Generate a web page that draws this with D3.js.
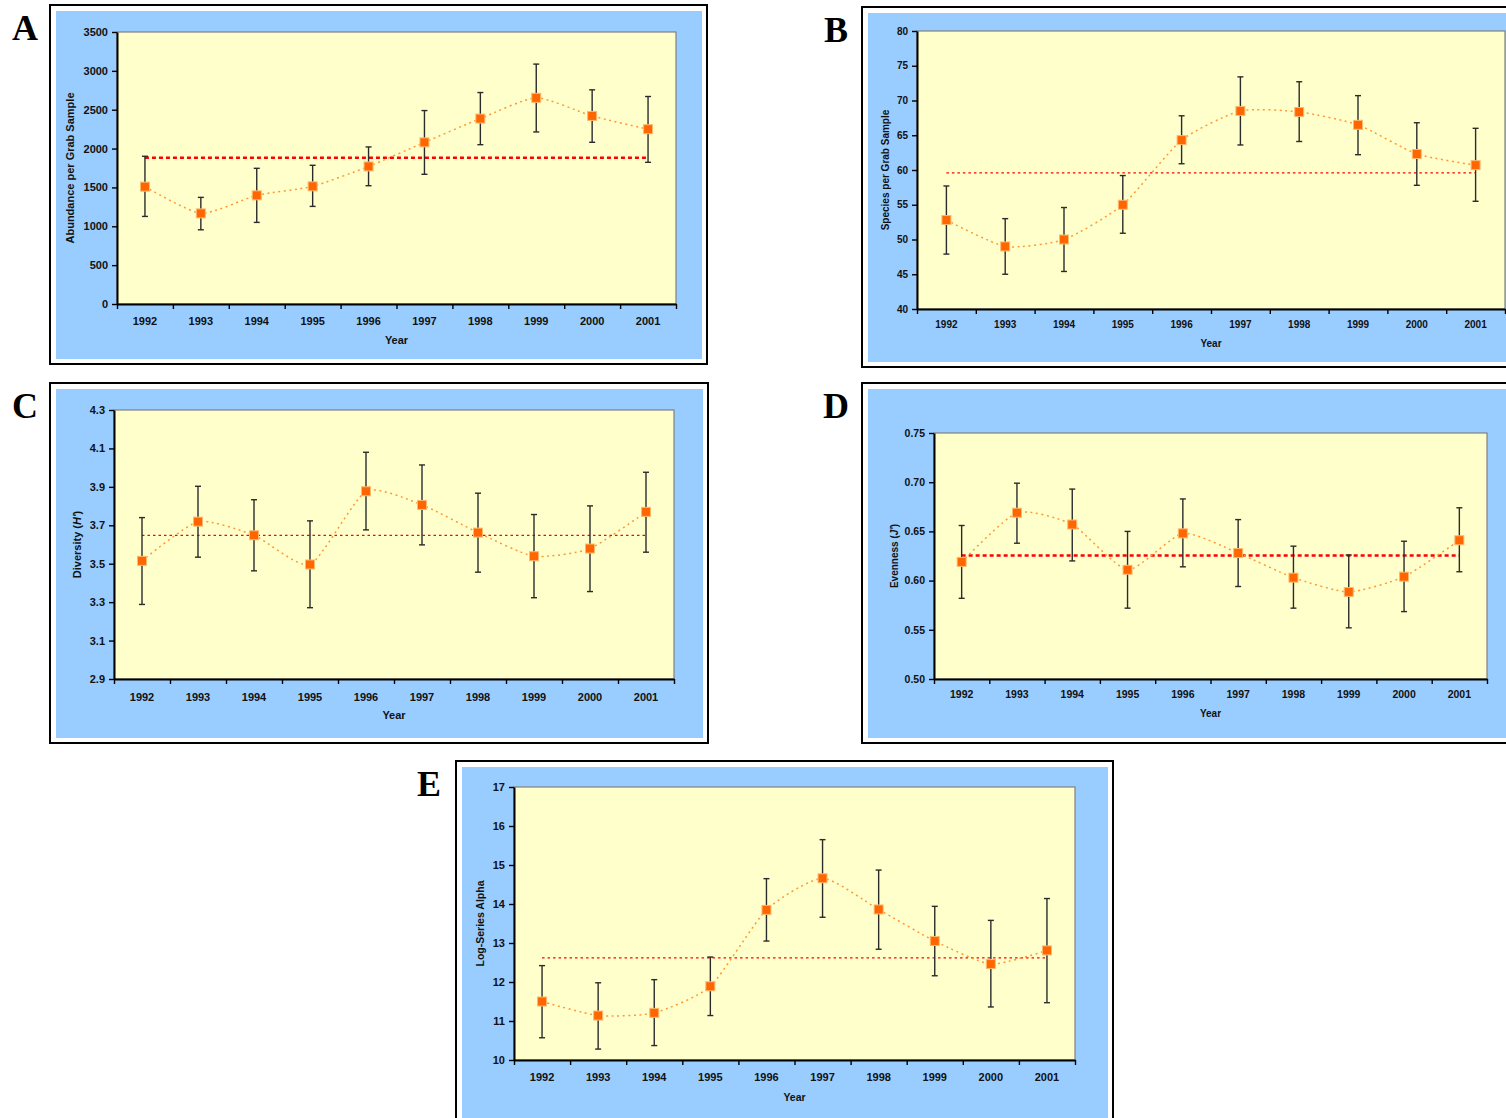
<!DOCTYPE html>
<html>
<head>
<meta charset="utf-8">
<script src="https://cdn.jsdelivr.net/npm/d3@7"></script>
<style>
body { margin: 0; background: #fff; }
svg { display: block; }
</style>
</head>
<body>
<svg id="fig" width="1506" height="1118"></svg>
<script>
var years = ["1992", "1993", "1994", "1995", "1996", "1997", "1998", "1999", "2000", "2001"];

// A - abundance
var abundance   = [1510, 1166, 1398, 1514, 1770, 2080, 2386, 2653, 2420, 2249];
var abundanceLo = [1127, 955, 1050, 1256, 1522, 1669, 2050, 2214, 2081, 1823];
var abundanceHi = [1901, 1372, 1746, 1785, 2021, 2489, 2721, 3087, 2756, 2670];
var abundanceAvg = 1883;
var abundanceTicks = [0, 500, 1000, 1500, 2000, 2500, 3000, 3500];

// B - species
var species   = [52.8, 49.0, 50.0, 55.0, 64.3, 68.5, 68.35, 66.5, 62.3, 60.7];
var speciesLo = [47.9, 45.0, 45.4, 50.9, 60.9, 63.6, 64.1, 62.2, 57.8, 55.5];
var speciesHi = [57.7, 53.0, 54.6, 59.2, 67.8, 73.4, 72.7, 70.7, 66.8, 66.0];
var speciesAvg = 59.6;
var speciesTicks = [40, 45, 50, 55, 60, 65, 70, 75, 80];

// C - diversity
var diversity   = [3.515, 3.719, 3.648, 3.496, 3.877, 3.806, 3.662, 3.539, 3.579, 3.770];
var diversityLo = [3.288, 3.534, 3.463, 3.271, 3.676, 3.598, 3.456, 3.323, 3.355, 3.560];
var diversityHi = [3.740, 3.903, 3.833, 3.723, 4.080, 4.014, 3.867, 3.756, 3.801, 3.976];
var diversityAvg = 3.648;
var diversityTicks = [2.9, 3.1, 3.3, 3.5, 3.7, 3.9, 4.1, 4.3];

// D - evenness
var evenness   = [0.619, 0.669, 0.657, 0.611, 0.648, 0.628, 0.603, 0.5885, 0.604, 0.641];
var evennessLo = [0.582, 0.638, 0.620, 0.572, 0.614, 0.594, 0.572, 0.552, 0.5685, 0.609];
var evennessHi = [0.656, 0.699, 0.693, 0.650, 0.683, 0.662, 0.635, 0.626, 0.640, 0.674];
var evennessAvg = 0.6255;
var evennessTicks = [0.50, 0.55, 0.60, 0.65, 0.70, 0.75];

// E - log-series alpha
var alpha   = [11.50, 11.14, 11.21, 11.89, 13.85, 14.66, 13.86, 13.05, 12.46, 12.81];
var alphaLo = [10.57, 10.28, 10.37, 11.14, 13.05, 13.66, 12.84, 12.16, 11.36, 11.47];
var alphaHi = [12.42, 11.98, 12.06, 12.64, 14.65, 15.65, 14.87, 13.94, 13.58, 14.14];
var alphaAvg = 12.62;
var alphaTicks = [10, 11, 12, 13, 14, 15, 16, 17];

var svg = d3.select("#fig");

var panels = [
  {letter: "A", lx: 12, ly: 40, frame: [50, 5, 707, 364], plot: [117, 32, 676, 304],
   v: abundance, lo: abundanceLo, hi: abundanceHi, avg: abundanceAvg, ticks: abundanceTicks,
   fmt: d3.format("d"), label: ["Abundance per Grab Sample"], labX: 70, fs: 11, fsLab: 11,
   pad: 13, yearGap: 36, thickMean: true},
  {letter: "B", lx: 824, ly: 42, frame: [862, 7, 1513, 367], plot: [917, 31, 1505, 309],
   v: species, lo: speciesLo, hi: speciesHi, avg: speciesAvg, ticks: speciesTicks,
   fmt: d3.format("d"), label: ["Species per Grab Sample"], labX: 885, fs: 10, fsLab: 10,
   pad: 12, yearGap: 34, thickMean: false},
  {letter: "C", lx: 12, ly: 418, frame: [50, 383, 708, 743], plot: [114, 410, 674, 679],
   v: diversity, lo: diversityLo, hi: diversityHi, avg: diversityAvg, ticks: diversityTicks,
   fmt: d3.format(".1f"), label: ["Diversity (", "H'", ")"], labX: 77, fs: 11, fsLab: 11,
   pad: 14, yearGap: 36, thickMean: false},
  {letter: "D", lx: 823, ly: 418, frame: [862, 383, 1513, 743], plot: [934, 433, 1487, 679],
   v: evenness, lo: evennessLo, hi: evennessHi, avg: evennessAvg, ticks: evennessTicks,
   fmt: d3.format(".2f"), label: ["Evenness (", "J'", ")"], labX: 894, fs: 10.5, fsLab: 10,
   pad: 12, yearGap: 34, thickMean: true},
  {letter: "E", lx: 417, ly: 796, frame: [456, 761, 1113, 1125], plot: [514, 787, 1075, 1060],
   v: alpha, lo: alphaLo, hi: alphaHi, avg: alphaAvg, ticks: alphaTicks,
   fmt: d3.format("d"), label: ["Log-Series Alpha"], labX: 480, fs: 11, fsLab: 10.5,
   pad: 13, yearGap: 37, thickMean: false}
];

var sans = "Arial, 'Liberation Sans', Helvetica, sans-serif";

panels.forEach(function(p) {
  var g = svg.append("g");
  var f = p.frame, pl = p.plot;

  // letter
  svg.append("text")
    .attr("x", p.lx).attr("y", p.ly)
    .style("font-family", "'Times New Roman', 'Liberation Serif', serif")
    .style("font-weight", "bold").style("font-size", "36px")
    .text(p.letter);

  // frame + blue area
  g.append("rect")
    .attr("x", f[0]).attr("y", f[1]).attr("width", f[2] - f[0]).attr("height", f[3] - f[1])
    .attr("fill", "#fff").attr("stroke", "#000").attr("stroke-width", 2);
  g.append("rect")
    .attr("x", f[0] + 6).attr("y", f[1] + 6).attr("width", f[2] - f[0] - 11).attr("height", f[3] - f[1] - 11)
    .attr("fill", "#99CCFF");

  var x = d3.scaleBand().domain(years).range([pl[0], pl[2]]);
  var y = d3.scaleLinear().domain([p.ticks[0], p.ticks[p.ticks.length - 1]]).range([pl[3], pl[1]]);
  var cx = function(i) { return x(years[i]) + x.bandwidth() / 2; };

  g.append("rect")
    .attr("x", pl[0]).attr("y", pl[1]).attr("width", pl[2] - pl[0]).attr("height", pl[3] - pl[1])
    .attr("fill", "#FFFFCC").attr("stroke", "#808080").attr("stroke-width", 1.2);

  // grand mean
  g.append("line")
    .attr("x1", cx(0)).attr("x2", cx(years.length - 1))
    .attr("y1", y(p.avg)).attr("y2", y(p.avg))
    .attr("stroke", "#FF0000")
    .attr("stroke-width", p.thickMean ? 2.5 : 1.3)
    .attr("stroke-dasharray", p.thickMean ? "4,3" : "2.5,3");

  // error bars
  var eb = g.append("g").attr("stroke", "#2b2b2b").attr("stroke-width", 1.4);
  years.forEach(function(yr, i) {
    eb.append("line").attr("x1", cx(i)).attr("x2", cx(i)).attr("y1", y(p.lo[i])).attr("y2", y(p.hi[i]));
    eb.append("line").attr("x1", cx(i) - 3).attr("x2", cx(i) + 3).attr("y1", y(p.lo[i])).attr("y2", y(p.lo[i]));
    eb.append("line").attr("x1", cx(i) - 3).attr("x2", cx(i) + 3).attr("y1", y(p.hi[i])).attr("y2", y(p.hi[i]));
  });

  // smoothed series
  var line = d3.line()
    .x(function(d, i) { return cx(i); })
    .y(function(d) { return y(d); })
    .curve(d3.curveCardinal.tension(0.4));
  g.append("path")
    .attr("d", line(p.v))
    .attr("fill", "none").attr("stroke", "#FF9933")
    .attr("stroke-width", 1.5).attr("stroke-dasharray", "2,3.5");

  g.selectAll(".mk").data(p.v).enter().append("rect")
    .attr("x", function(d, i) { return cx(i) - 4.5; })
    .attr("y", function(d) { return y(d) - 4.5; })
    .attr("width", 9).attr("height", 9)
    .attr("fill", "#FF6600").attr("stroke", "#FFB870").attr("stroke-width", 1);

  // y axis
  var ya = g.append("g").attr("transform", "translate(" + pl[0] + ",0)")
    .call(d3.axisLeft(y).tickValues(p.ticks).tickFormat(p.fmt).tickSize(5).tickSizeOuter(0).tickPadding(4));
  ya.select(".domain").attr("stroke", "#000").attr("stroke-width", 2);
  ya.selectAll(".tick line").attr("stroke", "#000").attr("stroke-width", 1.4);
  ya.selectAll("text").style("font-family", sans).style("font-weight", "bold")
    .style("font-size", p.fs + "px").attr("fill", "#111");

  // x axis: labels centred in bands, tick marks at band edges
  var xa = g.append("g").attr("transform", "translate(0," + pl[3] + ")")
    .call(d3.axisBottom(x).tickSize(0).tickPadding(p.pad));
  xa.select(".domain").remove();
  xa.selectAll("text").style("font-family", sans).style("font-weight", "bold")
    .style("font-size", p.fs + "px").attr("fill", "#111");
  var edge = d3.scaleLinear().domain([0, years.length]).range([pl[0], pl[2]]);
  var xt = g.append("g").attr("transform", "translate(0," + pl[3] + ")")
    .call(d3.axisBottom(edge).tickValues(d3.range(years.length + 1)).tickFormat("").tickSize(5).tickSizeOuter(0));
  xt.select(".domain").attr("stroke", "#000").attr("stroke-width", 2);
  xt.selectAll(".tick line").attr("stroke", "#000").attr("stroke-width", 1.4);

  // axis titles
  g.append("text")
    .attr("x", (pl[0] + pl[2]) / 2).attr("y", pl[3] + p.yearGap)
    .attr("text-anchor", "middle").attr("dy", "0.35em")
    .style("font-family", sans).style("font-weight", "bold").style("font-size", p.fsLab + "px")
    .attr("fill", "#111").text("Year");

  var lt = g.append("text")
    .attr("transform", "translate(" + p.labX + "," + ((pl[1] + pl[3]) / 2) + ") rotate(-90)")
    .attr("text-anchor", "middle").attr("dy", "0.35em")
    .style("font-family", sans).style("font-weight", "bold").style("font-size", p.fsLab + "px")
    .attr("fill", "#111");
  p.label.forEach(function(s, i) {
    lt.append("tspan").style("font-style", i === 1 ? "italic" : "normal").text(s);
  });
});
</script>
</body>
</html>
